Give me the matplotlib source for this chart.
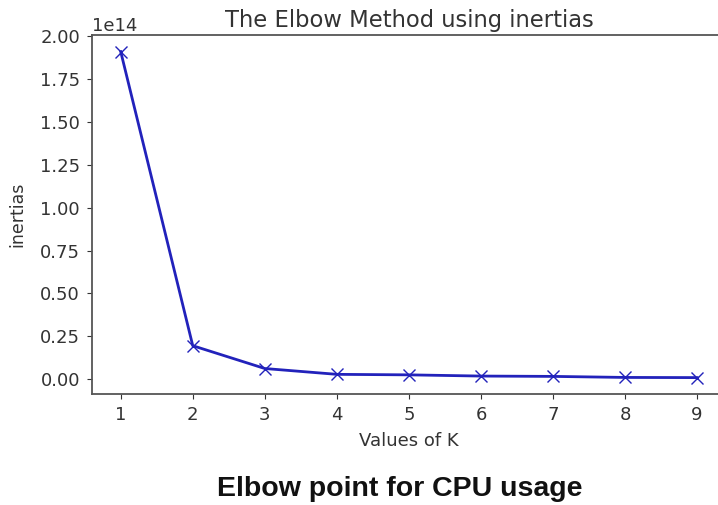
import matplotlib.pyplot as plt

k_values = [1, 2, 3, 4, 5, 6, 7, 8, 9]
inertias = [1.91e14, 0.195e14, 0.062e14, 0.028e14, 0.025e14, 0.018e14, 0.016e14, 0.010e14, 0.009e14]

fig = plt.figure(figsize=(7.18, 5.05), dpi=100)
# right spine sits just past the figure edge
ax = fig.add_axes([0.128, 0.22, 0.883, 0.71])

ax.plot(k_values, inertias, 'x-', color='#2222bb', linewidth=2, markersize=8)
ax.set_xticks(k_values)
ax.set_xlabel('Values of K', fontsize=13, color='#333333', labelpad=6)
ax.set_ylabel('inertias', fontsize=12.5, color='#333333', labelpad=10)
ax.set_title('The Elbow Method using inertias', fontsize=16.3, color='#333333')
ax.tick_params(labelsize=13, colors='#333333', pad=5)
ax.yaxis.get_offset_text().set_fontsize(13)
for s in ax.spines.values():
    s.set_color('#555555')
    s.set_linewidth(1.3)

fig.text(0.557, 0.018, 'Elbow point for CPU usage', ha='center', va='baseline',
         fontsize=20.5, fontweight='bold', family='Liberation Sans', color='#111111')

fig.savefig('out.png', dpi=100)
